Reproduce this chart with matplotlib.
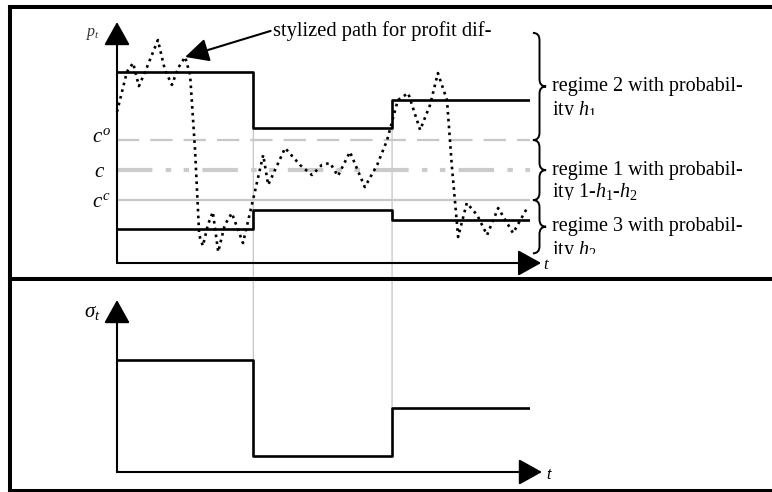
import matplotlib
matplotlib.use("Agg")
import matplotlib.pyplot as plt
from matplotlib.patches import ConnectionPatch, PathPatch
from matplotlib.path import Path
from matplotlib.lines import Line2D
from matplotlib.transforms import Bbox, TransformedBbox

plt.rcParams['font.family'] = ['Liberation Serif', 'DejaVu Serif']
plt.rcParams['mathtext.fontset'] = 'custom'
plt.rcParams['mathtext.rm'] = 'Liberation Serif'
plt.rcParams['mathtext.it'] = 'Liberation Serif:italic'

# regime switch times and step levels (schematic units)
switch_t = [0, 3.3, 6.66, 10]
upper_level = [7.93, 5.62, 6.76, 6.76]
lower_level = [1.41, 2.20, 1.78, 1.78]
sigma_level = [6.51, 0.93, 3.72, 3.72]

# thresholds c^o, c, c^c
c_open, c_mid, c_close = 5.10, 3.86, 2.61

# stylized profit differential path
path_t = [0, 0.24, 0.39, 0.53, 0.68, 0.99, 1.16, 1.33, 1.48, 1.65, 1.77, 1.89,
          1.99, 2.08, 2.20, 2.32, 2.45, 2.61, 2.78, 3.05, 3.32, 3.54, 3.66, 4.07,
          4.43, 4.72, 4.96, 5.16, 5.35, 5.64, 6.00, 6.30, 6.54, 6.80, 7.05, 7.34,
          7.58, 7.77, 7.99, 8.11, 8.26, 8.47, 8.72, 8.96, 9.23, 9.59, 9.93]
path_p = [6.27, 7.93, 8.30, 7.34, 7.93, 9.25, 8.01, 7.39, 8.09, 8.55, 7.80, 4.69,
          1.16, 0.71, 1.58, 2.12, 0.46, 1.58, 2.07, 0.83, 2.82, 4.48, 3.24, 4.77,
          4.07, 3.65, 4.07, 4.15, 3.61, 4.61, 3.15, 4.07, 5.10, 6.76, 7.05, 5.52,
          6.56, 7.88, 6.76, 3.98, 1.08, 2.49, 1.99, 1.16, 2.28, 1.24, 2.28]

# braces: (top, bottom) and text per regime
brace_spans = [(9.55, c_open), (c_open, c_close), (c_close, 0.40)]
regime_text = [("regime 2 with probabil-", "ity $h_1$"),
               ("regime 1 with probabil-", "ity 1-$h_1$-$h_2$"),
               ("regime 3 with probabil-", "ity $h_2$")]
line2_y = [6.33, 2.92, 0.50]
line2_cut = [6.16, 2.61, 0.36]

W, H = 772, 492
fig = plt.figure(figsize=(W / 100, H / 100), dpi=100)


def fx(px):
    return px / W


def fy(py):
    return 1 - py / H


ax = fig.add_axes([fx(117), fy(263), fx(530) - fx(117), fy(22) - fy(263)])
ax2 = fig.add_axes([fx(117), fy(472), fx(530) - fx(117), fy(300) - fy(472)])
for a in (ax, ax2):
    a.set_xlim(0, 10)
    a.set_ylim(0, 10)
    a.axis('off')
    a.patch.set_visible(False)

arrow = dict(arrowstyle='-|>,head_length=0.72,head_width=0.4', mutation_scale=20,
             lw=1.5, color='black', shrinkA=0, shrinkB=0)

# ---- top panel ----
ax.annotate('', xy=(10.27, 0), xytext=(0, 0), arrowprops=arrow, annotation_clip=False)
ax.annotate('', xy=(0, 10), xytext=(0, 0), arrowprops=arrow, annotation_clip=False)

ax.axhline(c_open, 0, 1, color='#c8c8c8', lw=1.6, ls=(0, (10, 5)), zorder=1)
ax.axhline(c_mid, 0, 1, color='#cbcbcb', lw=3, ls=(0, (8.5, 3.2, 1.3, 3, 1.3, 3.2)), zorder=1)
ax.axhline(c_close, 0, 1, color='#c8c8c8', lw=1.6, zorder=1)

ax.step(switch_t, upper_level, where='post', color='black', lw=1.9, zorder=3)
ax.step(switch_t, lower_level, where='post', color='black', lw=1.9, zorder=3)

ax.plot(path_t, path_p, color='black', lw=1.9, ls=(0, (1, 1.6)), zorder=4,
        dash_capstyle='butt', solid_joinstyle='round', clip_on=False)

ax.text(-0.58, 9.5, '$p_t$', fontsize=11.5, color='#333333', ha='center', va='center')
ax.text(10.41, -0.1, '$t$', fontsize=12, ha='center', va='center')
ax.text(-0.15, c_open + 0.1, '$c^o$', fontsize=15, ha='right', va='center')
ax.text(-0.3, c_mid - 0.1, '$c$', fontsize=15, ha='right', va='center')
ax.text(-0.15, c_close - 0.1, '$c^c$', fontsize=15, ha='right', va='center')

ax.annotate('', xy=(1.65, 8.55), xytext=(3.72, 9.63), annotation_clip=False,
            arrowprops=dict(arrowstyle='-|>,head_length=0.9,head_width=0.45',
                            mutation_scale=16, lw=1.5, color='black',
                            shrinkA=0, shrinkB=0))
ax.text(3.78, 9.63, 'stylized path for profit dif-', fontsize=14.8, ha='left', va='center')

# curly braces and regime labels (second lines are cut off as in the source)
bx0, bw, br = 10.07, 0.32, 0.3
for (top, bot), (l1, l2), y2, cut in zip(brace_spans, regime_text, line2_y, line2_cut):
    xm, xt, ym = bx0 + bw / 2, bx0 + bw, (top + bot) / 2
    verts = [(bx0, top), (xm, top), (xm, top - br), (xm, ym + br),
             (xm, ym), (xt, ym), (xm, ym), (xm, ym - br),
             (xm, bot + br), (xm, bot), (bx0, bot)]
    codes = [Path.MOVETO, Path.CURVE3, Path.CURVE3, Path.LINETO,
             Path.CURVE3, Path.CURVE3, Path.CURVE3, Path.CURVE3,
             Path.LINETO, Path.CURVE3, Path.CURVE3]
    ax.add_patch(PathPatch(Path(verts, codes), fc='none', ec='black', lw=1.4, clip_on=False))
    ax.text(10.53, ym, l1, fontsize=14.5, ha='left', va='center')
    t2 = ax.text(10.53, y2, l2, fontsize=14.5, ha='left', va='center', clip_on=True)
    t2.set_clip_box(TransformedBbox(Bbox([[10.4, cut], [20, 12]]), ax.transData))

# ---- bottom panel ----
ax2.annotate('', xy=(10.29, 0), xytext=(0, 0), arrowprops=arrow, annotation_clip=False)
ax2.annotate('', xy=(0, 10), xytext=(0, 0), arrowprops=arrow, annotation_clip=False)
ax2.step(switch_t, sigma_level, where='post', color='black', lw=1.9, zorder=3)
ax2.text(-0.6, 9.3, r'$\sigma_t$', fontsize=15, ha='center', va='center')
ax2.text(10.44, -0.17, 't', fontsize=11, fontstyle='italic', family='Liberation Sans',
         ha='center', va='center')

# thin guide lines linking the switch times of both panels
for t_sw, p_top, s_bot in [(switch_t[1], upper_level[1], sigma_level[0]),
                           (switch_t[2], upper_level[1], sigma_level[2])]:
    fig.add_artist(ConnectionPatch(xyA=(t_sw, p_top), coordsA=ax.transData,
                                   xyB=(t_sw, s_bot), coordsB=ax2.transData,
                                   color='#bdbdbd', lw=0.8, zorder=-1))

# frame
for xs, ys in [([10, 780], [7, 7]), ([10, 780], [278.5, 278.5]),
               ([10, 780], [491, 491]), ([10, 10], [7, 491])]:
    fig.add_artist(Line2D([fx(x) for x in xs], [fy(y) for y in ys], color='black',
                          lw=2.9, solid_capstyle='projecting'))

fig.savefig('out.png', dpi=100, facecolor='white')
